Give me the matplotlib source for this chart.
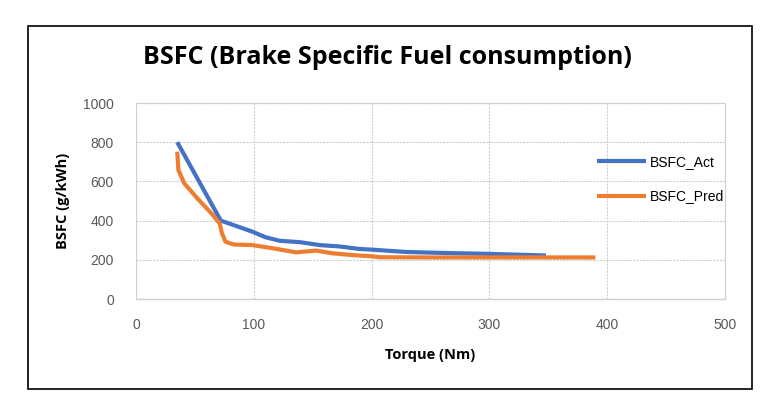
import matplotlib.pyplot as plt
from matplotlib.patches import Rectangle

# values
act_torque = [35, 72, 99, 110, 122, 139, 156, 173, 190, 200, 229, 260, 301, 348]
act_bsfc = [800, 400, 343, 315, 297, 290, 275, 268, 255, 252, 240, 235, 230, 222]

pred_torque = [35, 36, 41, 52, 64, 71, 73, 76, 83, 99, 116, 136, 153, 167,
               184, 200, 207, 250, 300, 350, 390]
pred_bsfc = [752, 658, 590, 514, 437, 386, 335, 292, 278, 275, 259, 238, 247,
             233, 224, 218, 213, 212, 212, 212, 212]

x_ticks = [0, 100, 200, 300, 400, 500]
y_ticks = [0, 200, 400, 600, 800, 1000]

plt.rcParams['font.family'] = ['Liberation Sans', 'DejaVu Sans']

fig = plt.figure(figsize=(7.74, 4.15), dpi=100)
ax = fig.add_axes([136 / 774, 1 - 299 / 415, 589 / 774, 196 / 415])

# outer chart border
fig.patches.append(Rectangle((28 / 774, 1 - 389 / 415), 724 / 774, 363 / 415,
                             transform=fig.transFigure, fill=False,
                             edgecolor='black', linewidth=1.2))

ax.plot(act_torque, act_bsfc, color='#4472C4', linewidth=3, label='BSFC_Act',
        solid_capstyle='butt', zorder=3)
ax.plot(pred_torque, pred_bsfc, color='#ED7D31', linewidth=3, label='BSFC_Pred',
        solid_capstyle='butt', zorder=3)

ax.set_xlim(0, 500)
ax.set_ylim(0, 1000)
ax.set_xticks(x_ticks)
ax.set_yticks(y_ticks)
ax.grid(True, color='#D0D0D0', linestyle=(0, (2, 1)), linewidth=0.8)
for side in ['top', 'right', 'left']:
    ax.spines[side].set_color('#D0D0D0')
    ax.spines[side].set_linestyle((0, (2, 1)))
    ax.spines[side].set_linewidth(0.8)
ax.spines['bottom'].set_color('#D0D0D0')
ax.spines['bottom'].set_linewidth(1.0)
ax.tick_params(length=0, labelsize=10, labelcolor='#595959')
ax.tick_params(axis='y', pad=16)
ax.tick_params(axis='x', pad=14)

ax.set_xlabel('Torque (Nm)', fontsize=10.5, fontweight='bold', labelpad=11,
              family=['Open Sans', 'DejaVu Sans'])
ax.set_ylabel('BSFC (g/kWh)', fontsize=10.5, fontweight='bold', labelpad=9,
              family=['Open Sans', 'DejaVu Sans'])
fig.text(0.5, 1 - 57 / 415, 'BSFC (Brake Specific Fuel consumption)',
         ha='center', va='center', fontsize=18, fontweight='bold',
         family=['Open Sans', 'DejaVu Sans'])

ax.legend(loc='center left', bbox_to_anchor=(0.783, 0.612), frameon=False,
          fontsize=10, handlelength=3.5, handletextpad=0.3, labelspacing=1.5,
          borderpad=0, borderaxespad=0)

fig.savefig('out.png', dpi=100)
